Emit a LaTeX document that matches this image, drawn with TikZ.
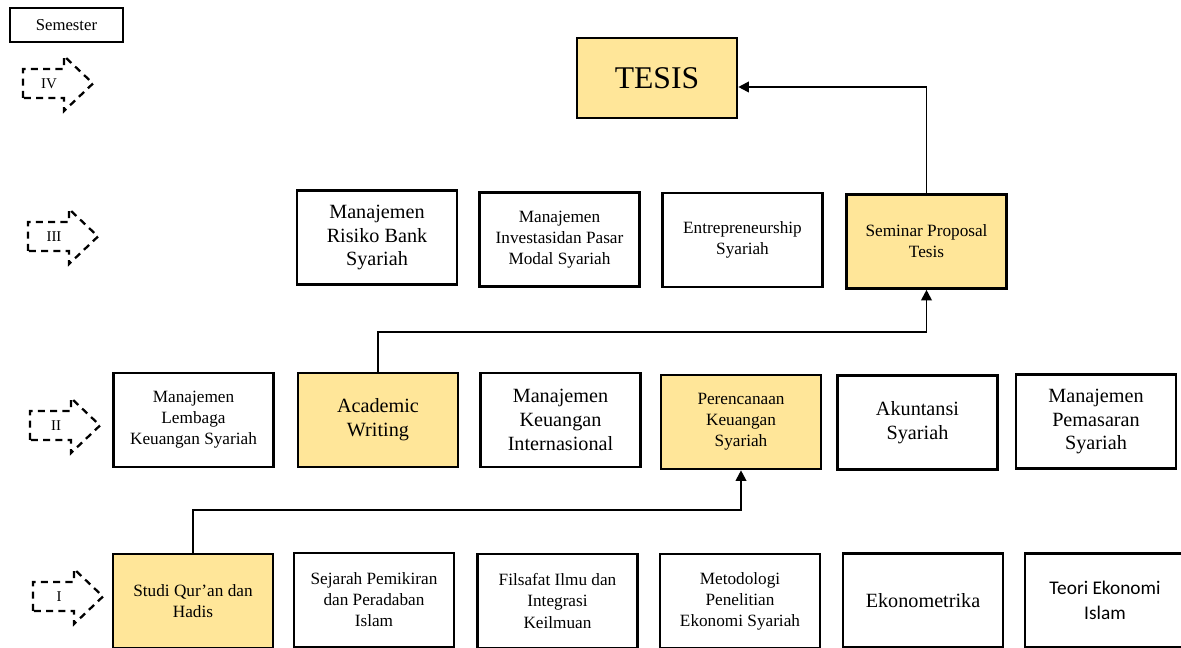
\documentclass[tikz,border=0pt]{standalone}
\usepackage{fontspec}
\setmainfont{Liberation Serif}
\newfontfamily\calibrifont{Carlito}
\usetikzlibrary{arrows.meta}
\definecolor{matkulkuning}{HTML}{FFE699}
\tikzset{matkul/.style={draw=black, line width=1.5pt, minimum width=3.2cm, minimum height=1.88cm, align=center, inner sep=2pt},
 besar/.style={font=\fontsize{11.5}{13.6}\selectfont},
 kecil/.style={font=\fontsize{9.8}{12}\selectfont},
 inti/.style={fill=matkulkuning},
 alur/.style={line width=1.1pt, -{Triangle[length=6pt,width=6pt]}},
 panahsmt/.style={line width=1.3pt, dash pattern=on 4pt off 3pt}}

\begin{document}
\begin{tikzpicture}[x=0.02cm,y=-0.02cm]
  \useasboundingbox (0,0) rectangle (1181,648);

  % semester markers
  \node[draw, line width=1.3pt, minimum width=2.26cm, minimum height=0.68cm, font=\fontsize{9.5}{11}\selectfont] (semester) at (66.5,25) {Semester};
  \foreach \nama/\x/\y in {IV/23/69, III/28/222, II/30/411, I/33/582} {
    \draw[panahsmt] (\x,\y+29) -- (\x,\y) -- (\x+41,\y) -- (\x+41,\y-13) -- (\x+70,\y+14.5) -- (\x+41,\y+42) -- (\x+41,\y+29) -- cycle;
    \node[font=\fontsize{8.5}{10}\selectfont, inner sep=0pt] (smt\nama) at (\x+26,\y+14.5) {\nama};
  }

  % semester IV
  \node[matkul, inti, minimum height=1.6cm, font=\fontsize{18}{20}\selectfont] (tesis) at (657,78) {TESIS};

  % semester III
  \node[matkul, besar] (risiko) at (377,237.5) {Manajemen\\Risiko Bank\\Syariah};
  \node[matkul, kecil] (investasi) at (559.5,239.5) {Manajemen\\Investasidan Pasar\\Modal Syariah};
  \node[matkul, kecil] (entre) at (742.5,240) {Entrepreneurship\\Syariah};
  \node[matkul, kecil, inti] (seminar) at (926.5,241.5) {Seminar Proposal\\Tesis};

  % semester II
  \node[matkul, kecil] (lembaga) at (193.5,420) {Manajemen\\Lembaga\\Keuangan Syariah};
  \node[matkul, besar, inti] (academic) at (378,420) {Academic\\Writing};
  \node[matkul, besar] (internasional) at (560.5,420) {Manajemen\\Keuangan\\Internasional};
  \node[matkul, kecil, inti] (perencanaan) at (741,422) {Perencanaan\\Keuangan\\Syariah};
  \node[matkul, besar] (akuntansi) at (917.5,422.5) {Akuntansi\\Syariah};
  \node[matkul, besar] (pemasaran) at (1096,421.5) {Manajemen\\Pemasaran\\Syariah};

  % semester I
  \node[matkul, kecil, inti] (studi) at (193,601) {Studi Qur’an dan\\Hadis};
  \node[matkul, kecil] (sejarah) at (374,600) {Sejarah Pemikiran\\dan Peradaban\\Islam};
  \node[matkul, kecil] (filsafat) at (557.5,601) {Filsafat Ilmu dan\\Integrasi\\Keilmuan};
  \node[matkul, kecil] (metodologi) at (740,601) {Metodologi\\Penelitian\\Ekonomi Syariah};
  \node[matkul, besar] (ekonometrika) at (923,600.5) {Ekonometrika};
  \node[matkul, font=\calibrifont\fontsize{11}{14}\selectfont] (teori) at (1105,600.5) {Teori Ekonomi\\Islam};

  % alur prasyarat
  \draw[alur] (studi.north) -- ++(0,-43) -| (perencanaan.south);
  \draw[alur] (academic.north) -- ++(0,-40) -| (seminar.south);
  \draw[alur] (seminar.north) |- ([yshift=-0.18cm]tesis.east);
\end{tikzpicture}
\end{document}
